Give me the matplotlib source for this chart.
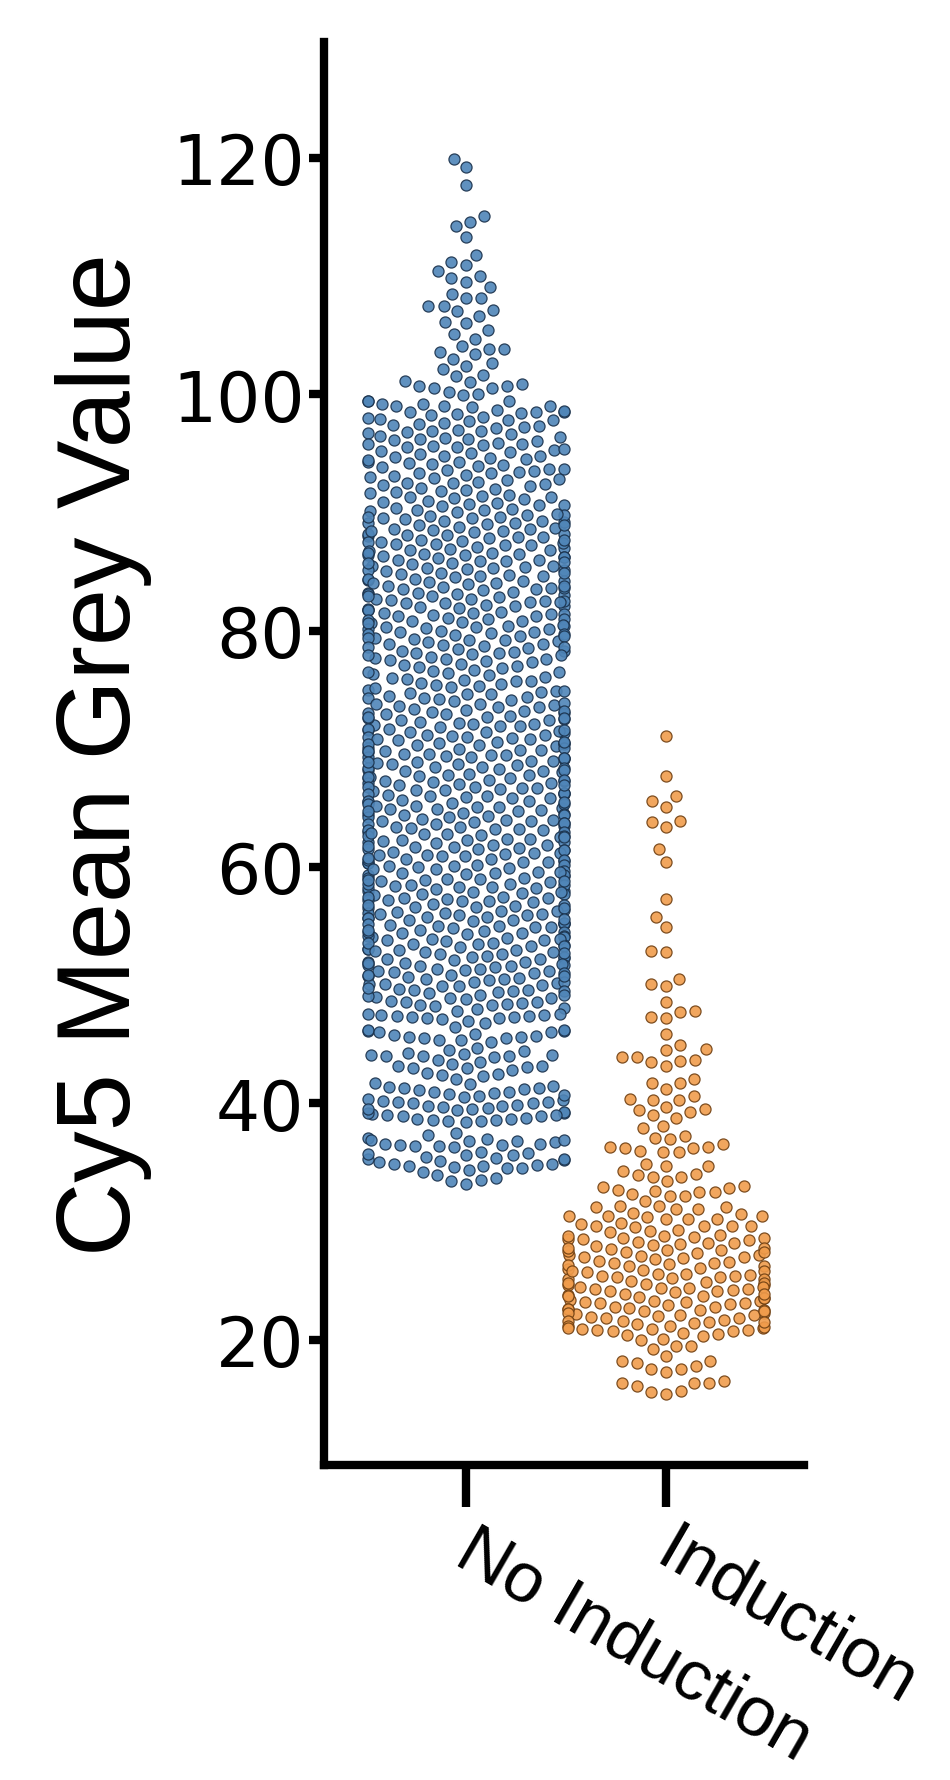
import matplotlib
matplotlib.use("Agg")
import matplotlib.pyplot as plt
from matplotlib.transforms import ScaledTranslation
import numpy as np

# ---------------- data ----------------
categories = ["No Induction", "Induction"]
yticks = [20, 40, 60, 80, 100, 120]

no_induction_top = [119.9, 119.2, 117.7, 115.1, 114.6, 114.2, 113.3, 111.8, 111.2, 110.9,
                    110.4, 110.0, 109.8, 109.5, 109.1, 108.5, 108.1, 108.1, 107.5, 107.0,
                    107.5, 106.6, 107.1, 106.0, 105.1, 106.1, 105.4, 104.7, 103.8, 103.6,
                    103.4, 103.8, 104.1, 103.0, 102.4, 102.1, 102.6, 101.5, 101.6, 101.0,
                    100.7, 100.7, 100.5, 100.0, 100.5, 100.2, 100.9, 101.1,
                    99.4, 99.4, 98.5, 98.5, 98.3, 99.0, 99.0, 99.0, 99.2, 99.9, 98.5, 99.2, 99.4]

no_induction_upper = [
    98.0, 98.1, 98.2, 98.4, 98.6, 98.7, 98.9,
    97.0, 97.1, 97.2, 97.3, 97.4, 97.5, 97.6, 97.7, 97.8, 97.8, 97.9,
    96.0, 96.1, 96.2, 96.2, 96.3, 96.4, 96.5, 96.6, 96.7, 96.8, 96.9, 96.9,
    95.0, 95.1, 95.2, 95.3, 95.4, 95.5, 95.5, 95.6, 95.7, 95.8, 95.8, 95.9,
    94.0, 94.1, 94.2, 94.3, 94.3, 94.4, 94.5, 94.6, 94.7, 94.8, 94.8, 94.9,
    93.0, 93.1, 93.2, 93.3, 93.3, 93.4, 93.5, 93.6, 93.7, 93.7, 93.8, 93.9,
    92.0, 92.1, 92.2, 92.3, 92.4, 92.5, 92.6, 92.7, 92.8, 92.9, 92.5,
    91.0, 91.1, 91.2, 91.3, 91.4, 91.5, 91.6, 91.7, 91.8, 91.9, 91.3,
    90.0, 90.1, 90.2, 90.3, 90.4, 90.5, 90.6, 90.7, 90.8, 90.9, 90.2, 90.6,
    89.0, 89.1, 89.1, 89.2, 89.3, 89.4, 89.5, 89.5, 89.6, 89.7, 89.8, 89.8, 89.9, 89.3, 89.6,
    88.0, 88.1, 88.2, 88.2, 88.3, 88.4, 88.5, 88.6, 88.6, 88.7, 88.8, 88.9, 88.9, 88.4, 88.1,
    87.0, 87.1, 87.2, 87.3, 87.3, 87.4, 87.5, 87.6, 87.7, 87.7, 87.8, 87.9, 87.5, 87.2, 87.9,
    86.0, 86.1, 86.2, 86.3, 86.4, 86.4, 86.5, 86.6, 86.7, 86.8, 86.8, 86.9, 86.2, 86.6, 86.0, 86.5,
    85.0, 85.1, 85.2, 85.3, 85.4, 85.5, 85.5, 85.6, 85.7, 85.8, 85.9, 85.9, 85.3, 85.1, 85.7,
    84.0, 84.1, 84.2, 84.2, 84.3, 84.4, 84.5, 84.6, 84.7, 84.8, 84.9, 84.9, 84.6, 84.4, 84.0,
    83.0, 83.1, 83.2, 83.3, 83.4, 83.5, 83.6, 83.6, 83.7, 83.8, 83.9, 83.2, 83.5, 83.8, 83.1,
    82.0, 82.1, 82.2, 82.3, 82.3, 82.4, 82.5, 82.6, 82.7, 82.7, 82.8, 82.9, 82.1, 82.5, 82.9, 82.4,
    81.0, 81.1, 81.2, 81.3, 81.4, 81.5, 81.5, 81.6, 81.7, 81.8, 81.9, 81.2, 81.4, 81.7, 81.0,
    80.0, 80.1, 80.2, 80.3, 80.4, 80.4, 80.5, 80.6, 80.7, 80.8, 80.9, 80.1, 80.6, 80.8, 80.3,
    79.0, 79.1, 79.2, 79.3, 79.4, 79.5, 79.6, 79.7, 79.7, 79.8, 79.9, 79.2, 79.5, 79.9, 79.4,
    78.0, 78.1, 78.2, 78.3, 78.4, 78.5, 78.6, 78.7, 78.8, 78.9, 78.3, 78.6, 78.9, 78.1,
    77.0, 77.1, 77.2, 77.4, 77.5, 77.6, 77.7, 77.8, 77.9, 77.3, 77.6, 77.9,
    76.0, 76.1, 76.3, 76.4, 76.5, 76.6, 76.7, 76.8, 76.9, 76.2, 76.5,
    75.0, 75.1, 75.2, 75.3, 75.5, 75.6, 75.7, 75.8, 75.9, 75.4, 75.7,
]

no_induction_mid = [
    74.0, 74.1, 74.2, 74.3, 74.4, 74.5, 74.6, 74.7, 74.8, 74.9, 74.3, 74.6, 74.9,
    73.0, 73.1, 73.2, 73.3, 73.4, 73.5, 73.6, 73.7, 73.8, 73.9, 73.2, 73.5, 73.8, 73.0,
    72.0, 72.1, 72.2, 72.3, 72.4, 72.5, 72.6, 72.7, 72.7, 72.8, 72.9, 72.1, 72.4, 72.6, 72.9,
    71.0, 71.1, 71.2, 71.3, 71.4, 71.5, 71.6, 71.6, 71.7, 71.8, 71.9, 71.2, 71.4, 71.7, 71.9, 71.0,
    70.0, 70.1, 70.2, 70.3, 70.4, 70.5, 70.5, 70.6, 70.7, 70.8, 70.9, 70.1, 70.3, 70.6, 70.8, 70.4,
    69.0, 69.1, 69.2, 69.2, 69.3, 69.4, 69.5, 69.6, 69.6, 69.7, 69.8, 69.9, 69.0, 69.3, 69.5, 69.8, 69.9,
    68.0, 68.1, 68.2, 68.3, 68.4, 68.4, 68.5, 68.6, 68.7, 68.8, 68.9, 68.2, 68.5, 68.7, 68.9, 68.1,
    67.0, 67.1, 67.2, 67.3, 67.4, 67.5, 67.5, 67.6, 67.7, 67.8, 67.9, 67.1, 67.3, 67.6, 67.8, 67.4,
    66.0, 66.1, 66.2, 66.3, 66.3, 66.4, 66.5, 66.6, 66.7, 66.8, 66.8, 66.9, 66.0, 66.2, 66.5, 66.7, 66.9,
    65.0, 65.1, 65.2, 65.3, 65.4, 65.5, 65.6, 65.6, 65.7, 65.8, 65.9, 65.1, 65.3, 65.5, 65.8, 65.2,
    64.0, 64.1, 64.2, 64.3, 64.4, 64.5, 64.5, 64.6, 64.7, 64.8, 64.9, 64.2, 64.4, 64.7, 64.9, 64.0,
    63.0, 63.1, 63.2, 63.2, 63.3, 63.4, 63.5, 63.6, 63.7, 63.7, 63.8, 63.9, 63.0, 63.4, 63.6, 63.9, 63.1,
    62.0, 62.1, 62.2, 62.3, 62.4, 62.4, 62.5, 62.6, 62.7, 62.8, 62.9, 62.1, 62.3, 62.6, 62.8, 62.5,
    61.0, 61.1, 61.2, 61.3, 61.4, 61.5, 61.5, 61.6, 61.7, 61.8, 61.9, 61.2, 61.4, 61.7, 61.9, 61.0,
    60.0, 60.1, 60.2, 60.3, 60.3, 60.4, 60.5, 60.6, 60.7, 60.7, 60.8, 60.9, 60.1, 60.4, 60.6, 60.9, 60.2,
    59.0, 59.1, 59.2, 59.3, 59.4, 59.5, 59.5, 59.6, 59.7, 59.8, 59.9, 59.1, 59.3, 59.6, 59.8, 59.0,
    58.0, 58.1, 58.2, 58.2, 58.3, 58.4, 58.5, 58.6, 58.6, 58.7, 58.8, 58.9, 58.0, 58.3, 58.5, 58.8, 58.9,
    57.0, 57.1, 57.2, 57.3, 57.4, 57.4, 57.5, 57.6, 57.7, 57.8, 57.9, 57.2, 57.5, 57.7, 57.9, 57.1,
    56.0, 56.1, 56.2, 56.3, 56.4, 56.5, 56.6, 56.6, 56.7, 56.8, 56.9, 56.1, 56.3, 56.5, 56.8, 56.0,
    55.0, 55.1, 55.2, 55.3, 55.3, 55.4, 55.5, 55.6, 55.7, 55.7, 55.8, 55.9, 55.0, 55.2, 55.5, 55.8, 55.9,
    54.0, 54.1, 54.2, 54.3, 54.4, 54.5, 54.5, 54.6, 54.7, 54.8, 54.9, 54.2, 54.4, 54.7, 54.9, 54.1,
    53.0, 53.1, 53.1, 53.2, 53.3, 53.4, 53.5, 53.5, 53.6, 53.7, 53.8, 53.9, 53.9, 53.3, 53.6, 53.0, 53.8,
    52.0, 52.1, 52.2, 52.3, 52.4, 52.4, 52.5, 52.6, 52.7, 52.8, 52.9, 52.2, 52.6, 52.8, 52.0,
    51.0, 51.1, 51.2, 51.2, 51.3, 51.4, 51.5, 51.6, 51.6, 51.7, 51.8, 51.9, 51.0, 51.4, 51.7, 51.9,
    50.0, 50.1, 50.2, 50.3, 50.3, 50.4, 50.5, 50.6, 50.7, 50.8, 50.8, 50.9, 50.1, 50.5, 50.9,
]

no_induction_low = [
    49.0, 49.1, 49.2, 49.3, 49.4, 49.5, 49.5, 49.6, 49.7, 49.8, 49.9, 49.2, 49.6, 49.9,
    48.0, 48.1, 48.2, 48.3, 48.4, 48.5, 48.6, 48.7, 48.8, 48.9, 48.3, 48.6, 48.9,
    47.1, 47.2, 47.2, 47.3, 47.3, 47.4, 47.4, 47.5, 47.5, 47.6, 47.6, 47.8, 47.0,
    46.0, 46.1, 46.1, 46.2, 46.2, 46.5, 46.8, 46.0,
    45.4, 45.5, 45.5, 45.6, 45.6, 45.7, 45.8, 45.9, 45.2, 45.4,
    44.0, 44.0, 44.1, 44.1, 44.2, 44.3, 44.4, 44.5, 44.7, 44.0,
    43.0, 43.1, 43.2, 43.3, 43.5, 43.7, 43.9, 43.0, 43.2,
    42.1, 42.3, 42.4, 42.6, 42.8, 42.5,
    41.0, 41.1, 41.2, 41.3, 41.4, 41.5, 41.6, 41.7, 41.0, 41.3,
    40.0, 40.1, 40.1, 40.2, 40.3, 40.4, 40.5, 40.6, 40.7, 40.8, 40.9, 40.0,
    39.0, 39.1, 39.2, 39.3, 39.4, 39.5, 39.6, 39.7, 39.8, 39.9, 39.2, 39.5, 39.8, 39.0,
    38.4, 38.5, 38.6, 38.7, 38.8, 38.9, 38.5, 38.7, 38.9, 38.6,
    37.0, 37.1, 37.3, 37.5,
    36.3, 36.4, 36.4, 36.5, 36.6, 36.6, 36.7, 36.8, 36.8, 36.9, 36.9, 36.5,
    35.0, 35.1, 35.2, 35.3, 35.4, 35.5, 35.6, 35.7, 35.8, 35.9, 35.3, 35.6,
    34.2, 34.4, 34.5, 34.6, 34.7, 34.8, 34.9, 34.9, 34.5, 34.7,
    33.2, 33.4, 33.5, 33.7, 33.9,
]

induction_top = [71.1, 67.7, 65.6, 66.0, 65.1, 63.8, 63.9, 63.4, 61.5, 60.4, 57.3, 55.8, 54.9,
                 52.9, 52.8, 50.5, 49.9, 50.1, 48.6, 47.8, 47.3, 47.2, 47.7, 45.9, 44.6, 44.9,
                 44.5, 43.9, 43.9, 43.5, 43.2, 43.6, 43.7, 41.7, 41.7, 42.1, 41.2, 40.6, 40.3,
                 40.4, 40.3, 39.7, 39.3, 39.4, 38.8, 39.0, 39.5, 37.9, 37.1, 37.2, 38.1, 36.6,
                 36.3, 36.2, 35.9, 35.9, 36.0, 36.2, 36.3, 37.0, 34.7, 34.3, 33.9, 33.8, 33.4,
                 33.8, 34.0, 34.7, 34.9, 33.0, 32.7, 32.5, 32.3, 32.2, 32.5, 32.2, 32.6, 32.8,
                 32.9, 31.7, 31.2, 31.3, 31.2, 31.3, 31.1, 30.2, 30.2, 30.7, 30.5, 30.4, 30.5,
                 30.5, 30.6, 30.2, 31.1]

induction_mid = [
    29.6, 29.2, 29.1, 29.6, 29.6, 29.6, 29.5, 29.9, 29.3, 29.8,
    28.0, 28.1, 28.2, 28.3, 28.4, 28.5, 28.5, 28.6, 28.7, 28.8, 28.8, 28.9, 28.2, 28.6,
    27.0, 27.1, 27.2, 27.2, 27.3, 27.4, 27.5, 27.6, 27.6, 27.7, 27.8, 27.9, 27.0, 27.4, 27.8,
    26.0, 26.1, 26.2, 26.3, 26.4, 26.5, 26.6, 26.7, 26.8, 26.9, 26.5, 26.2,
    25.0, 25.1, 25.2, 25.3, 25.4, 25.4, 25.5, 25.6, 25.7, 25.8, 25.8, 25.9, 25.1, 25.6, 25.3,
    24.0, 24.1, 24.2, 24.3, 24.4, 24.4, 24.5, 24.6, 24.7, 24.8, 24.9, 24.1, 24.3, 24.6, 24.8, 24.5,
    23.0, 23.1, 23.2, 23.3, 23.3, 23.4, 23.5, 23.6, 23.7, 23.8, 23.9, 23.2, 23.5, 23.7, 23.9, 23.1,
    22.0, 22.1, 22.2, 22.3, 22.4, 22.5, 22.5, 22.6, 22.7, 22.8, 22.9, 22.1, 22.4, 22.6, 22.8, 22.3,
    21.0, 21.1, 21.2, 21.3, 21.4, 21.5, 21.6, 21.6, 21.7, 21.8, 21.9, 21.2, 21.5, 21.8, 21.0,
    20.9, 20.9, 20.8, 20.8, 20.7, 20.7, 20.6, 20.5, 20.4, 20.3, 20.1, 20.0,
]

induction_low = [19.5, 19.2, 18.6, 19.5, 18.2, 18.0, 17.5, 17.3, 17.5, 17.8, 18.2,
                 16.5, 16.3, 16.1, 15.6, 15.4, 15.7, 16.3, 16.3]

face_colors = ["#4f85b8", "#f09c4c"]
edge_colors = ["#1a314b", "#704012"]

# ---------------- figure ----------------
W, H, DPI = 950, 1781, 100
fig = plt.figure(figsize=(W / DPI, H / DPI), dpi=DPI)
ax = fig.add_axes([324 / W, 1 - 1466 / H, (804 - 324) / W, (1466 - 43) / H])
ax.set_xlim(-0.71, 1.69)
ax.set_ylim(9.4, 129.8)

MS = 8.0      # drawn marker diameter (pt)
LW = 0.9      # edge width (pt)
R_PX = 7.2    # swarm spacing radius (px)
HALF_W_PX = 98


def swarm(center, values):
    vals = np.asarray(values, float)
    disp = ax.transData.transform(np.column_stack([np.full(vals.size, center), vals]))
    order = np.argsort(disp[:, 1], kind="mergesort")
    pts = disp[order]
    mid = pts[0, 0]
    placed = np.empty((0, 2))
    for x0, y0 in pts:
        if placed.shape[0]:
            near = placed[np.abs(y0 - placed[:, 1]) < 2 * R_PX]
        else:
            near = placed
        cands = [x0]
        left_first = True
        for xj, yj in near[::-1]:
            dy = y0 - yj
            dx = np.sqrt(max((2 * R_PX) ** 2 - dy ** 2, 0)) * 1.05
            if left_first:
                cands += [xj - dx, xj + dx]
            else:
                cands += [xj + dx, xj - dx]
            left_first = not left_first
        cands = np.array(cands)
        cands = cands[np.argsort(np.abs(cands - mid), kind="mergesort")]
        chosen = cands[0]
        if near.shape[0]:
            for c in cands:
                if np.all((near[:, 0] - c) ** 2 + (near[:, 1] - y0) ** 2 >= (2 * R_PX) ** 2 - 1e-6):
                    chosen = c
                    break
        placed = np.vstack([placed, [chosen, y0]])
    xs = np.clip(placed[:, 0], mid - HALF_W_PX, mid + HALF_W_PX)
    res = np.empty_like(pts)
    res[order] = np.column_stack([xs, placed[:, 1]])
    return ax.transData.inverted().transform(res)


groups = [no_induction_top + no_induction_upper + no_induction_mid + no_induction_low,
          induction_top + induction_mid + induction_low]

for i, vals in enumerate(groups):
    xy = swarm(i, vals)
    ax.scatter(xy[:, 0], xy[:, 1], s=MS ** 2, facecolor=face_colors[i],
               edgecolor=edge_colors[i], linewidths=LW, alpha=0.9, zorder=3)

# ---------------- styling ----------------
for side in ["top", "right"]:
    ax.spines[side].set_visible(False)
for side in ["left", "bottom"]:
    ax.spines[side].set_linewidth(6)
    ax.spines[side].set_capstyle("projecting")

ax.set_yticks(yticks)
ax.set_yticklabels([str(v) for v in yticks], fontsize=50, family="DejaVu Sans")
ax.tick_params(axis="y", length=11, width=6, pad=3, direction="out")

ax.set_xticks([0, 1])
ax.set_xticklabels(categories, fontsize=51, family="Liberation Sans",
                   rotation=-30, ha="left", va="top", rotation_mode="anchor")
ax.tick_params(axis="x", length=30, width=6, pad=8, direction="out")
shift = ScaledTranslation(12 / DPI, 0, fig.dpi_scale_trans)
for lab in ax.get_xticklabels():
    lab.set_transform(lab.get_transform() + shift)

ax.set_ylabel("Cy5 Mean Grey Value", fontsize=74, family="Liberation Sans", labelpad=14)

fig.savefig("out.png", dpi=DPI, facecolor="white")
